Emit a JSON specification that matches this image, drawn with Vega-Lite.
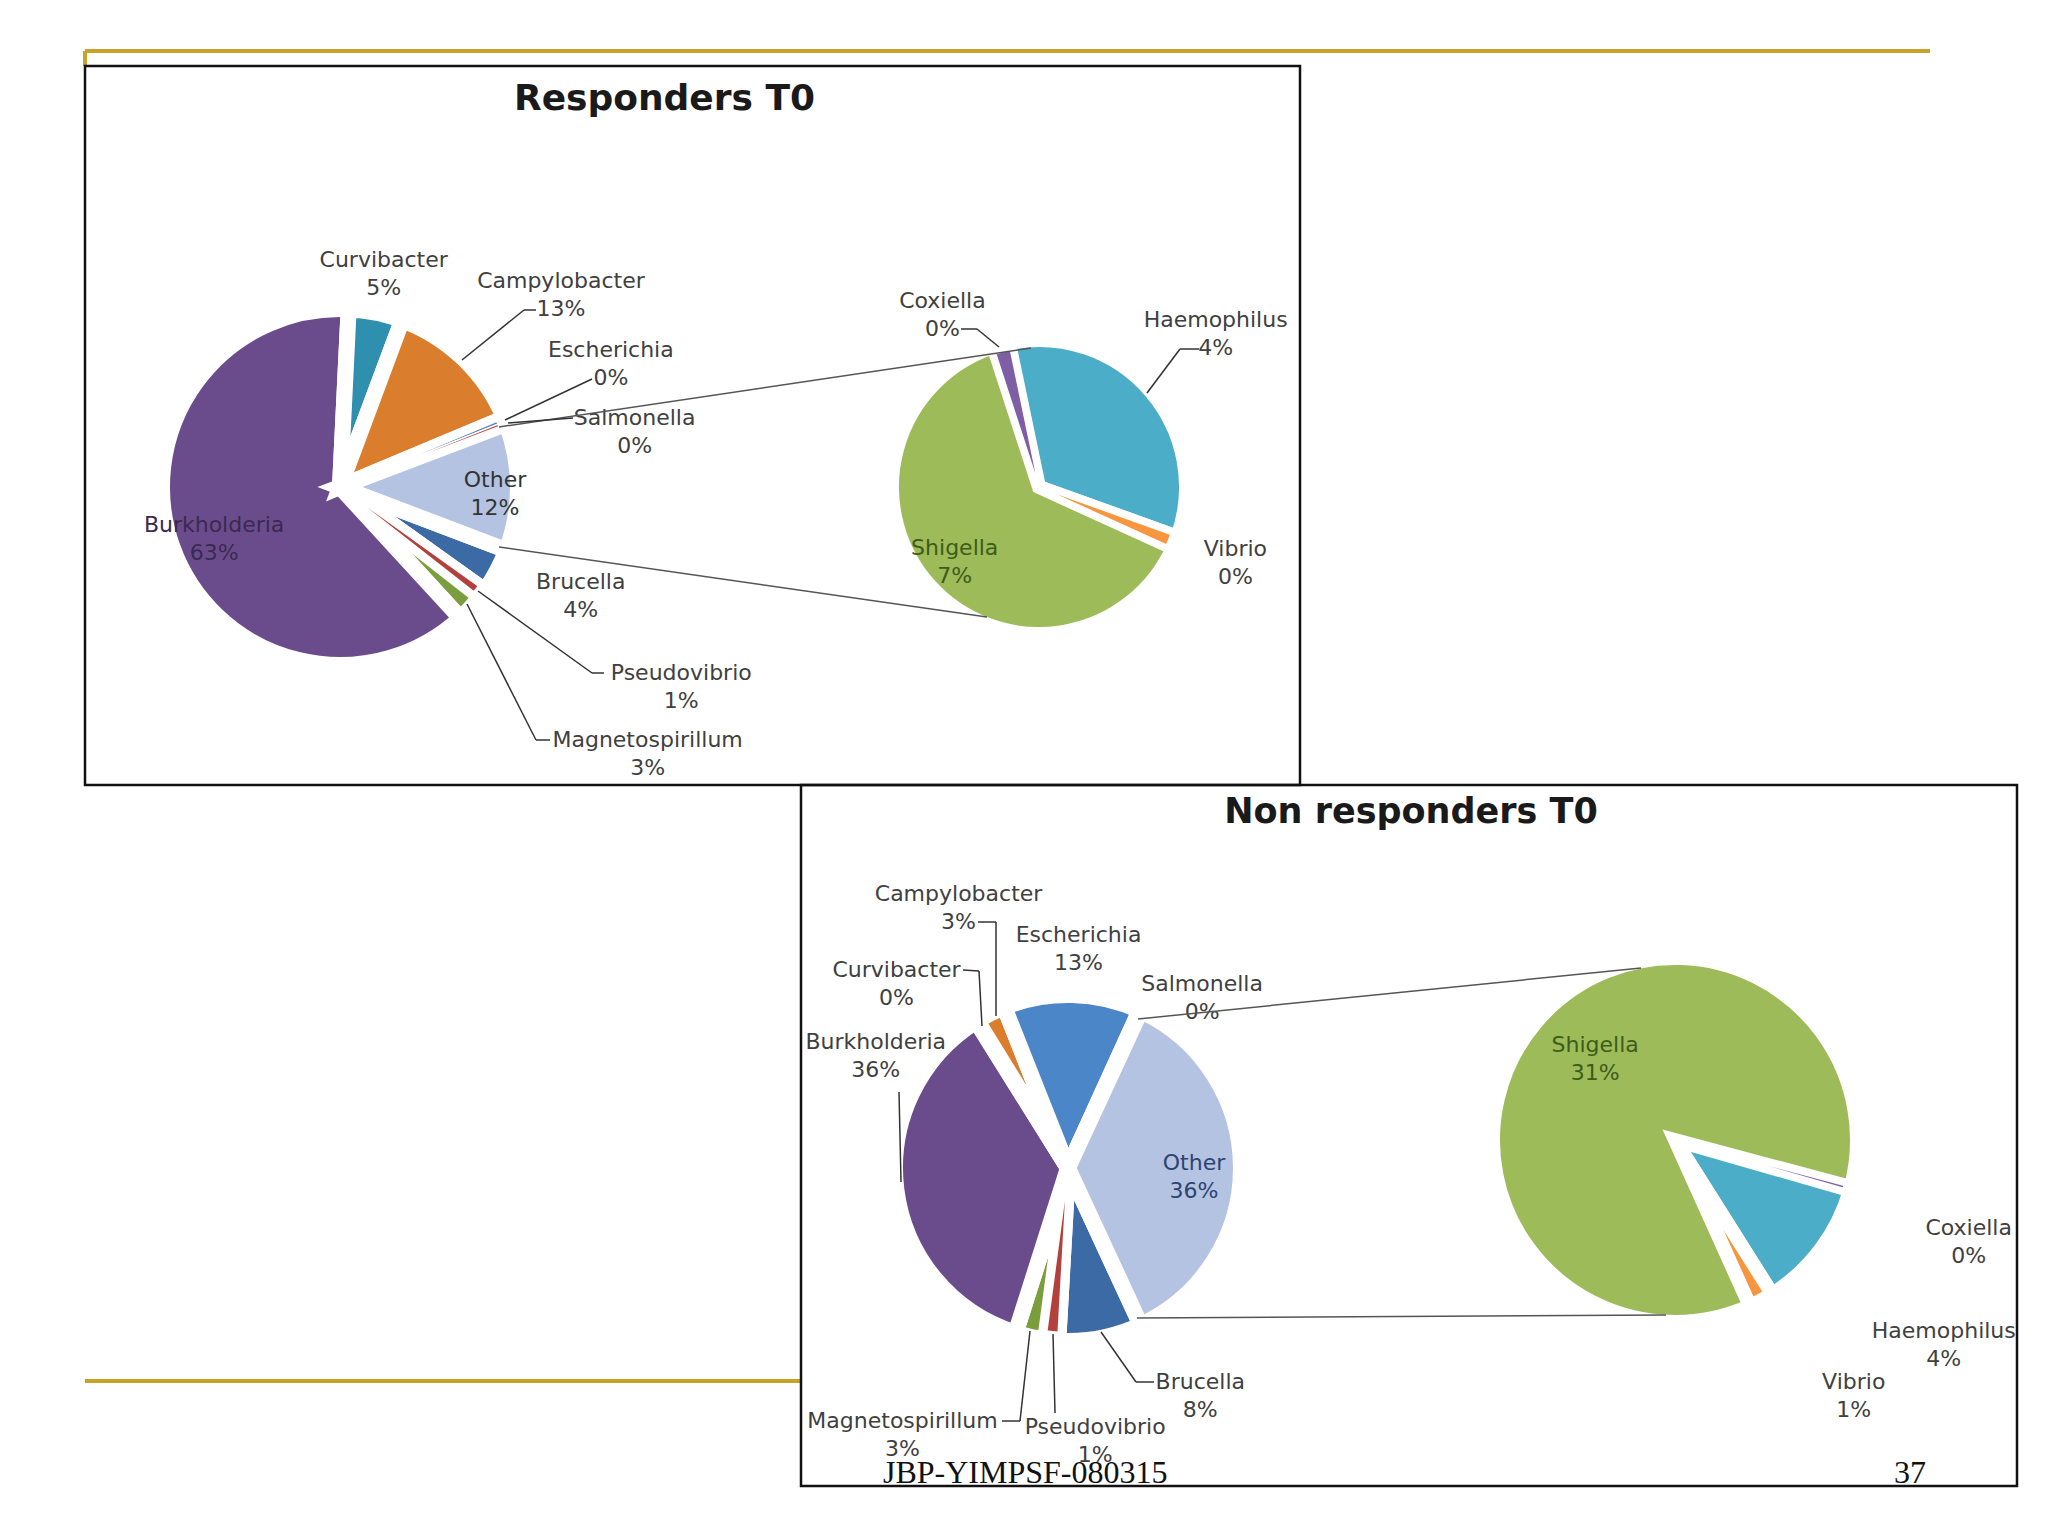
{
"$schema": "https://vega.github.io/schema/vega-lite/v6.json",
"background": "white",
"padding": {"left": 83, "top": 49, "right": 0, "bottom": 0},
"bounds": "flush",
"spacing": 0,
"config": {
  "view": {"stroke": null},
  "text": {"font": "DejaVu Sans", "fontSize": 22, "lineHeight": 28, "color": "#404040", "align": "center", "baseline": "middle"},
  "rule": {"color": "#333333", "strokeWidth": 1.5}
},
"datasets": {
  "r_main": [
    {"pie": "Main", "genus": "Brucella", "v": 0.041, "k": 1},
    {"pie": "Main", "genus": "Pseudovibrio", "v": 0.007, "k": 2},
    {"pie": "Main", "genus": "Magnetospirillum", "v": 0.026, "k": 3},
    {"pie": "Main", "genus": "Burkholderia", "v": 0.626, "k": 4},
    {"pie": "Main", "genus": "Curvibacter", "v": 0.049, "k": 5},
    {"pie": "Main", "genus": "Campylobacter", "v": 0.13, "k": 6},
    {"pie": "Main", "genus": "Escherichia", "v": 0.003, "k": 7},
    {"pie": "Main", "genus": "Salmonella", "v": 0.0025, "k": 8},
    {"pie": "Main", "genus": "Other", "v": 0.1155, "k": 9}
  ],
  "r_sub": [
    {"pie": "Sub", "genus": "Coxiella", "v": 0.002, "k": 1},
    {"pie": "Sub", "genus": "Haemophilus", "v": 0.039, "k": 2},
    {"pie": "Sub", "genus": "Vibrio", "v": 0.0015, "k": 3},
    {"pie": "Sub", "genus": "Shigella", "v": 0.073, "k": 4}
  ],
  "n_main": [
    {"pie": "Main", "genus": "Brucella", "v": 0.078, "k": 1},
    {"pie": "Main", "genus": "Pseudovibrio", "v": 0.012, "k": 2},
    {"pie": "Main", "genus": "Magnetospirillum", "v": 0.028, "k": 3},
    {"pie": "Main", "genus": "Burkholderia", "v": 0.362, "k": 4},
    {"pie": "Main", "genus": "Curvibacter", "v": 0.001, "k": 5},
    {"pie": "Main", "genus": "Campylobacter", "v": 0.028, "k": 6},
    {"pie": "Main", "genus": "Escherichia", "v": 0.128, "k": 7},
    {"pie": "Main", "genus": "Salmonella", "v": 0.001, "k": 8},
    {"pie": "Main", "genus": "Other", "v": 0.362, "k": 9}
  ],
  "n_sub": [
    {"pie": "Sub", "genus": "Coxiella", "v": 0.001, "k": 1},
    {"pie": "Sub", "genus": "Haemophilus", "v": 0.042, "k": 2},
    {"pie": "Sub", "genus": "Vibrio", "v": 0.008, "k": 3},
    {"pie": "Sub", "genus": "Shigella", "v": 0.311, "k": 4}
  ]
},
"vconcat": [
  {
    "width": 1845, "height": 15,
    "data": {"values": [{}]},
    "layer": [
      {"mark": {"type": "rule", "color": "#C9A227", "strokeWidth": 4},
       "encoding": {"y": {"datum": 1, "type": "quantitative", "scale": {"domain": [0, 1]}, "axis": null}}},
      {"mark": {"type": "rule", "color": "#C9A227", "strokeWidth": 4},
       "encoding": {"x": {"datum": 0, "type": "quantitative", "scale": {"domain": [0, 1]}, "axis": null}}}
    ]
  },
  {
    "width": 1215, "height": 719,
    "view": {"stroke": "#111111", "strokeWidth": 2.5},
    "resolve": {"scale": {"theta": "independent"}},
    "layer": [
      {
        "data": {"name": "r_main"},
        "encoding": {
          "x": {"field": "pie", "type": "nominal", "axis": null, "scale": {"type": "point", "domain": ["Main", "Sub"], "range": [255, 954], "padding": 0}},
          "y": {"field": "pie", "type": "nominal", "axis": null, "scale": {"type": "point", "domain": ["Main", "Sub"], "range": [421, 421], "padding": 0}},
          "theta": {"field": "v", "type": "quantitative", "stack": true, "scale": {"range": [1.93365, 8.21684]}},
          "order": {"field": "k", "type": "quantitative"},
          "detail": {"field": "genus", "type": "nominal"}
        },
        "layer": [
          {"mark": {"type": "arc", "radius": 178, "stroke": "white", "strokeWidth": 16},
           "encoding": {"color": {"field": "genus", "type": "nominal", "legend": null, "scale": {"domain": ["Burkholderia","Curvibacter","Campylobacter","Escherichia","Salmonella","Other","Brucella","Pseudovibrio","Magnetospirillum","Shigella","Haemophilus","Vibrio","Coxiella"], "range": ["#6A4C8C","#2F8FAE","#DA7D2C","#4A86C8","#C9524E","#B5C3E2","#3C6AA5","#B3403C","#7A9E3D","#9DBB58","#4BADC8","#F7963F","#7E5FA6"]}}}},
          {"mark": {"type": "arc", "radius": 170, "stroke": "white", "strokeWidth": 1.5},
           "encoding": {"color": {"field": "genus", "type": "nominal", "legend": null, "scale": {"domain": ["Burkholderia","Curvibacter","Campylobacter","Escherichia","Salmonella","Other","Brucella","Pseudovibrio","Magnetospirillum","Shigella","Haemophilus","Vibrio","Coxiella"], "range": ["#6A4C8C","#2F8FAE","#DA7D2C","#4A86C8","#C9524E","#B5C3E2","#3C6AA5","#B3403C","#7A9E3D","#9DBB58","#4BADC8","#F7963F","#7E5FA6"]}},
                        "opacity": {"condition": {"test": "datum.v < 0.013", "value": 1}, "value": 0}}},
          {"mark": {"type": "text", "clip": true, "radius": 136, "dx": 2, "dy": -8, "fill": "#3a2950", "text": {"expr": "[datum.genus, format(datum.v, '.0%')]"}}, "encoding": {"opacity": {"condition": {"test": "datum.genus === 'Burkholderia'", "value": 1}, "value": 0}}},
          {"mark": {"type": "text", "clip": true, "radius": 155, "dy": -7, "fill": "#333333", "text": {"expr": "[datum.genus, format(datum.v, '.0%')]"}}, "encoding": {"opacity": {"condition": {"test": "datum.genus === 'Other'", "value": 1}, "value": 0}}},
          {"mark": {"type": "text", "clip": true, "radius": 217, "dy": -14, "text": {"expr": "[datum.genus, format(datum.v, '.0%')]"}}, "encoding": {"opacity": {"condition": {"test": "datum.genus === 'Curvibacter'", "value": 1}, "value": 0}}},
          {"mark": {"type": "text", "clip": true, "radius": 293, "dx": 18, "dy": 5, "text": {"expr": "[datum.genus, format(datum.v, '.0%')]"}}, "encoding": {"opacity": {"condition": {"test": "datum.genus === 'Campylobacter'", "value": 1}, "value": 0}}},
          {"mark": {"type": "text", "clip": true, "radius": 298, "dx": -5, "dy": -24, "text": {"expr": "[datum.genus, format(datum.v, '.0%')]"}}, "encoding": {"opacity": {"condition": {"test": "datum.genus === 'Escherichia'", "value": 1}, "value": 0}}},
          {"mark": {"type": "text", "clip": true, "radius": 300, "dx": 15, "dy": 40, "text": {"expr": "[datum.genus, format(datum.v, '.0%')]"}}, "encoding": {"opacity": {"condition": {"test": "datum.genus === 'Salmonella'", "value": 1}, "value": 0}}},
          {"mark": {"type": "text", "clip": true, "radius": 264, "dx": 8, "dy": -30, "text": {"expr": "[datum.genus, format(datum.v, '.0%')]"}}, "encoding": {"opacity": {"condition": {"test": "datum.genus === 'Brucella'", "value": 1}, "value": 0}}},
          {"mark": {"type": "text", "clip": true, "radius": 395, "dx": 25, "dy": -51, "text": {"expr": "[datum.genus, format(datum.v, '.0%')]"}}, "encoding": {"opacity": {"condition": {"test": "datum.genus === 'Pseudovibrio'", "value": 1}, "value": 0}}},
          {"mark": {"type": "text", "clip": true, "radius": 408, "dx": 8, "dy": -24, "text": {"expr": "[datum.genus, format(datum.v, '.0%')]"}}, "encoding": {"opacity": {"condition": {"test": "datum.genus === 'Magnetospirillum'", "value": 1}, "value": 0}}}
        ]
      },
      {
        "data": {"name": "r_sub"},
        "encoding": {
          "x": {"field": "pie", "type": "nominal", "axis": null},
          "y": {"field": "pie", "type": "nominal", "axis": null},
          "theta": {"field": "v", "type": "quantitative", "stack": true, "scale": {"range": [-0.31416, 5.96903]}},
          "order": {"field": "k", "type": "quantitative"},
          "detail": {"field": "genus", "type": "nominal"}
        },
        "layer": [
          {"mark": {"type": "arc", "radius": 147, "stroke": "white", "strokeWidth": 14},
           "encoding": {"color": {"field": "genus", "type": "nominal", "legend": null, "scale": {"domain": ["Burkholderia","Curvibacter","Campylobacter","Escherichia","Salmonella","Other","Brucella","Pseudovibrio","Magnetospirillum","Shigella","Haemophilus","Vibrio","Coxiella"], "range": ["#6A4C8C","#2F8FAE","#DA7D2C","#4A86C8","#C9524E","#B5C3E2","#3C6AA5","#B3403C","#7A9E3D","#9DBB58","#4BADC8","#F7963F","#7E5FA6"]}}}},
          {"mark": {"type": "arc", "radius": 140, "stroke": "white", "strokeWidth": 1.5},
           "encoding": {"color": {"field": "genus", "type": "nominal", "legend": null, "scale": {"domain": ["Burkholderia","Curvibacter","Campylobacter","Escherichia","Salmonella","Other","Brucella","Pseudovibrio","Magnetospirillum","Shigella","Haemophilus","Vibrio","Coxiella"], "range": ["#6A4C8C","#2F8FAE","#DA7D2C","#4A86C8","#C9524E","#B5C3E2","#3C6AA5","#B3403C","#7A9E3D","#9DBB58","#4BADC8","#F7963F","#7E5FA6"]}},
                        "opacity": {"condition": {"test": "datum.v < 0.003", "value": 1}, "value": 0}}},
          {"mark": {"type": "text", "clip": true, "radius": 113, "dy": -14, "fill": "#3d5c1a", "text": {"expr": "[datum.genus, format(datum.v, '.0%')]"}}, "encoding": {"opacity": {"condition": {"test": "datum.genus === 'Shigella'", "value": 1}, "value": 0}}},
          {"mark": {"type": "text", "clip": true, "radius": 197, "dx": -46, "dy": 4, "text": {"expr": "[datum.genus, format(datum.v, '.0%')]"}}, "encoding": {"opacity": {"condition": {"test": "datum.genus === 'Coxiella'", "value": 1}, "value": 0}}},
          {"mark": {"type": "text", "clip": true, "radius": 234, "dy": -14, "text": {"expr": "[datum.genus, format(datum.v, '.0%')]"}}, "encoding": {"opacity": {"condition": {"test": "datum.genus === 'Haemophilus'", "value": 1}, "value": 0}}},
          {"mark": {"type": "text", "clip": true, "radius": 212, "dy": -18, "text": {"expr": "[datum.genus, format(datum.v, '.0%')]"}}, "encoding": {"opacity": {"condition": {"test": "datum.genus === 'Vibrio'", "value": 1}, "value": 0}}}
        ]
      },
      {
        "data": {"values": [{}]},
        "encoding": {"x": {"datum": "Main", "type": "nominal"}, "y": {"datum": "Main", "type": "nominal"}, "x2": {"datum": "Sub"}, "y2": {"datum": "Sub"}},
        "layer": [
          {"mark": {"type": "rule", "color": "#555555", "xOffset": 159, "yOffset": -60, "x2Offset": -8, "y2Offset": -139}},
          {"mark": {"type": "rule", "color": "#555555", "xOffset": 159, "yOffset": 60, "x2Offset": -52, "y2Offset": 130}}
        ]
      },
      {
        "data": {"values": [{}]},
        "encoding": {"x": {"datum": "Main", "type": "nominal"}, "y": {"datum": "Main", "type": "nominal"}, "x2": {"datum": "Main"}, "y2": {"datum": "Main"}},
        "layer": [
          {"mark": {"type": "rule", "xOffset": 122, "yOffset": -127, "x2Offset": 184, "y2Offset": -177}},
          {"mark": {"type": "rule", "xOffset": 184, "yOffset": -177, "x2Offset": 196, "y2Offset": -177}},
          {"mark": {"type": "rule", "xOffset": 165, "yOffset": -67, "x2Offset": 252, "y2Offset": -108}},
          {"mark": {"type": "rule", "xOffset": 168, "yOffset": -64, "x2Offset": 233, "y2Offset": -69}},
          {"mark": {"type": "rule", "xOffset": 138, "yOffset": 104, "x2Offset": 252, "y2Offset": 186}},
          {"mark": {"type": "rule", "xOffset": 252, "yOffset": 186, "x2Offset": 264, "y2Offset": 186}},
          {"mark": {"type": "rule", "xOffset": 127, "yOffset": 117, "x2Offset": 196, "y2Offset": 253}},
          {"mark": {"type": "rule", "xOffset": 196, "yOffset": 253, "x2Offset": 210, "y2Offset": 253}}
        ]
      },
      {
        "data": {"values": [{}]},
        "encoding": {"x": {"datum": "Sub", "type": "nominal"}, "y": {"datum": "Sub", "type": "nominal"}, "x2": {"datum": "Sub"}, "y2": {"datum": "Sub"}},
        "layer": [
          {"mark": {"type": "rule", "xOffset": -40, "yOffset": -140, "x2Offset": -62, "y2Offset": -158}},
          {"mark": {"type": "rule", "xOffset": -62, "yOffset": -158, "x2Offset": -78, "y2Offset": -158}},
          {"mark": {"type": "rule", "xOffset": 108, "yOffset": -94, "x2Offset": 141, "y2Offset": -138}},
          {"mark": {"type": "rule", "xOffset": 141, "yOffset": -138, "x2Offset": 160, "y2Offset": -138}}
        ]
      },
      {
        "data": {"values": [{}]},
        "mark": {"type": "text", "text": "Responders T0", "font": "DejaVu Sans", "fontSize": 36, "fontWeight": "bold", "color": "#1a1a1a", "dx": -28, "dy": -327}
      }
    ]
  },
  {
    "spacing": 0,
    "bounds": "flush",
    "hconcat": [
      {
        "width": 716, "height": 596,
        "data": {"values": [{}]},
        "mark": {"type": "rule", "color": "#C9A227", "strokeWidth": 4},
        "encoding": {"y": {"datum": 0, "type": "quantitative", "scale": {"domain": [0, 1]}, "axis": null}},
        "title": {"text": "JBP-YIMPSF-080315", "orient": "bottom", "anchor": "start", "baseline": "top", "font": "Liberation Serif", "fontSize": 32, "fontWeight": "normal", "color": "#111111", "offset": 75, "dx": 800}
      },
      {
        "width": 1216, "height": 701,
        "view": {"stroke": "#111111", "strokeWidth": 2.5},
        "resolve": {"scale": {"theta": "independent"}},
        "layer": [
          {
            "data": {"name": "n_main"},
            "encoding": {
              "x": {"field": "pie", "type": "nominal", "axis": null, "scale": {"type": "point", "domain": ["Main", "Sub"], "range": [267, 874], "padding": 0}},
              "y": {"field": "pie", "type": "nominal", "axis": null, "scale": {"type": "point", "domain": ["Main", "Sub"], "range": [383, 355], "padding": 0}},
              "theta": {"field": "v", "type": "quantitative", "stack": true, "scale": {"range": [2.70806, 8.99125]}},
              "order": {"field": "k", "type": "quantitative"},
              "detail": {"field": "genus", "type": "nominal"}
            },
            "layer": [
              {"mark": {"type": "arc", "radius": 173, "stroke": "white", "strokeWidth": 16},
               "encoding": {"color": {"field": "genus", "type": "nominal", "legend": null, "scale": {"domain": ["Burkholderia","Curvibacter","Campylobacter","Escherichia","Salmonella","Other","Brucella","Pseudovibrio","Magnetospirillum","Shigella","Haemophilus","Vibrio","Coxiella"], "range": ["#6A4C8C","#2F8FAE","#DA7D2C","#4A86C8","#C9524E","#B5C3E2","#3C6AA5","#B3403C","#7A9E3D","#9DBB58","#4BADC8","#F7963F","#7E5FA6"]}}}},
              {"mark": {"type": "arc", "radius": 165, "stroke": "white", "strokeWidth": 2.5},
               "encoding": {"color": {"field": "genus", "type": "nominal", "legend": null, "scale": {"domain": ["Burkholderia","Curvibacter","Campylobacter","Escherichia","Salmonella","Other","Brucella","Pseudovibrio","Magnetospirillum","Shigella","Haemophilus","Vibrio","Coxiella"], "range": ["#6A4C8C","#2F8FAE","#DA7D2C","#4A86C8","#C9524E","#B5C3E2","#3C6AA5","#B3403C","#7A9E3D","#9DBB58","#4BADC8","#F7963F","#7E5FA6"]}},
                            "opacity": {"condition": {"test": "datum.v < 0.013", "value": 1}, "value": 0}}},
              {"mark": {"type": "text", "clip": true, "radius": 282, "dx": 17, "dy": -22, "text": {"expr": "[datum.genus, format(datum.v, '.0%')]"}}, "encoding": {"opacity": {"condition": {"test": "datum.genus === 'Campylobacter'", "value": 1}, "value": 0}}},
              {"mark": {"type": "text", "clip": true, "radius": 219, "dx": 5, "dy": -14, "text": {"expr": "[datum.genus, format(datum.v, '.0%')]"}}, "encoding": {"opacity": {"condition": {"test": "datum.genus === 'Escherichia'", "value": 1}, "value": 0}}},
              {"mark": {"type": "text", "clip": true, "radius": 251, "dx": -39, "dy": 15, "text": {"expr": "[datum.genus, format(datum.v, '.0%')]"}}, "encoding": {"opacity": {"condition": {"test": "datum.genus === 'Curvibacter'", "value": 1}, "value": 0}}},
              {"mark": {"type": "text", "clip": true, "radius": 216, "dx": 44, "dy": 12, "text": {"expr": "[datum.genus, format(datum.v, '.0%')]"}}, "encoding": {"opacity": {"condition": {"test": "datum.genus === 'Salmonella'", "value": 1}, "value": 0}}},
              {"mark": {"type": "text", "clip": true, "radius": 222, "dx": 28, "dy": -154, "text": {"expr": "[datum.genus, format(datum.v, '.0%')]"}}, "encoding": {"opacity": {"condition": {"test": "datum.genus === 'Burkholderia'", "value": 1}, "value": 0}}},
              {"mark": {"type": "text", "clip": true, "radius": 126, "dy": -5, "fill": "#2c4470", "text": {"expr": "[datum.genus, format(datum.v, '.0%')]"}}, "encoding": {"opacity": {"condition": {"test": "datum.genus === 'Other'", "value": 1}, "value": 0}}},
              {"mark": {"type": "text", "clip": true, "radius": 263, "dx": 83, "dy": -44, "text": {"expr": "[datum.genus, format(datum.v, '.0%')]"}}, "encoding": {"opacity": {"condition": {"test": "datum.genus === 'Brucella'", "value": 1}, "value": 0}}},
              {"mark": {"type": "text", "clip": true, "radius": 274, "dx": 53, "dy": -14, "text": {"expr": "[datum.genus, format(datum.v, '.0%')]"}}, "encoding": {"opacity": {"condition": {"test": "datum.genus === 'Pseudovibrio'", "value": 1}, "value": 0}}},
              {"mark": {"type": "text", "clip": true, "radius": 314, "dx": -97, "dy": -53, "text": {"expr": "[datum.genus, format(datum.v, '.0%')]"}}, "encoding": {"opacity": {"condition": {"test": "datum.genus === 'Magnetospirillum'", "value": 1}, "value": 0}}}
            ]
          },
          {
            "data": {"name": "n_sub"},
            "encoding": {
              "x": {"field": "pie", "type": "nominal", "axis": null},
              "y": {"field": "pie", "type": "nominal", "axis": null},
              "theta": {"field": "v", "type": "quantitative", "stack": true, "scale": {"range": [1.8326, 8.11578]}},
              "order": {"field": "k", "type": "quantitative"},
              "detail": {"field": "genus", "type": "nominal"}
            },
            "layer": [
              {"mark": {"type": "arc", "radius": 182, "stroke": "white", "strokeWidth": 14},
               "encoding": {"color": {"field": "genus", "type": "nominal", "legend": null, "scale": {"domain": ["Burkholderia","Curvibacter","Campylobacter","Escherichia","Salmonella","Other","Brucella","Pseudovibrio","Magnetospirillum","Shigella","Haemophilus","Vibrio","Coxiella"], "range": ["#6A4C8C","#2F8FAE","#DA7D2C","#4A86C8","#C9524E","#B5C3E2","#3C6AA5","#B3403C","#7A9E3D","#9DBB58","#4BADC8","#F7963F","#7E5FA6"]}}}},
              {"mark": {"type": "arc", "radius": 175, "stroke": "white", "strokeWidth": 1.5},
               "encoding": {"color": {"field": "genus", "type": "nominal", "legend": null, "scale": {"domain": ["Burkholderia","Curvibacter","Campylobacter","Escherichia","Salmonella","Other","Brucella","Pseudovibrio","Magnetospirillum","Shigella","Haemophilus","Vibrio","Coxiella"], "range": ["#6A4C8C","#2F8FAE","#DA7D2C","#4A86C8","#C9524E","#B5C3E2","#3C6AA5","#B3403C","#7A9E3D","#9DBB58","#4BADC8","#F7963F","#7E5FA6"]}},
                            "opacity": {"condition": {"test": "datum.v < 0.003", "value": 1}, "value": 0}}},
              {"mark": {"type": "text", "clip": true, "radius": 114, "dx": 7, "dy": -21, "fill": "#3d5c1a", "text": {"expr": "[datum.genus, format(datum.v, '.0%')]"}}, "encoding": {"opacity": {"condition": {"test": "datum.genus === 'Shigella'", "value": 1}, "value": 0}}},
              {"mark": {"type": "text", "clip": true, "radius": 311, "dx": -6, "dy": 5, "text": {"expr": "[datum.genus, format(datum.v, '.0%')]"}}, "encoding": {"opacity": {"condition": {"test": "datum.genus === 'Coxiella'", "value": 1}, "value": 0}}},
              {"mark": {"type": "text", "clip": true, "radius": 336, "dy": -11, "text": {"expr": "[datum.genus, format(datum.v, '.0%')]"}}, "encoding": {"opacity": {"condition": {"test": "datum.genus === 'Haemophilus'", "value": 1}, "value": 0}}},
              {"mark": {"type": "text", "clip": true, "radius": 312, "dx": 31, "dy": -33, "text": {"expr": "[datum.genus, format(datum.v, '.0%')]"}}, "encoding": {"opacity": {"condition": {"test": "datum.genus === 'Vibrio'", "value": 1}, "value": 0}}}
            ]
          },
          {
            "data": {"values": [{}]},
            "encoding": {"x": {"datum": "Main", "type": "nominal"}, "y": {"datum": "Main", "type": "nominal"}, "x2": {"datum": "Sub"}, "y2": {"datum": "Sub"}},
            "layer": [
              {"mark": {"type": "rule", "color": "#555555", "xOffset": 70, "yOffset": -149, "x2Offset": -34, "y2Offset": -172}},
              {"mark": {"type": "rule", "color": "#555555", "xOffset": 69, "yOffset": 150, "x2Offset": -9, "y2Offset": 175}}
            ]
          },
          {
            "data": {"values": [{}]},
            "encoding": {"x": {"datum": "Main", "type": "nominal"}, "y": {"datum": "Main", "type": "nominal"}, "x2": {"datum": "Main"}, "y2": {"datum": "Main"}},
            "layer": [
              {"mark": {"type": "rule", "xOffset": -72, "yOffset": -152, "x2Offset": -72, "y2Offset": -246}},
              {"mark": {"type": "rule", "xOffset": -72, "yOffset": -246, "x2Offset": -90, "y2Offset": -246}},
              {"mark": {"type": "rule", "xOffset": -86, "yOffset": -142, "x2Offset": -89, "y2Offset": -197}},
              {"mark": {"type": "rule", "xOffset": -89, "yOffset": -197, "x2Offset": -105, "y2Offset": -198}},
              {"mark": {"type": "rule", "xOffset": -169, "yOffset": -76, "x2Offset": -167, "y2Offset": 14}},
              {"mark": {"type": "rule", "xOffset": -38, "yOffset": 163, "x2Offset": -48, "y2Offset": 253}},
              {"mark": {"type": "rule", "xOffset": -48, "yOffset": 253, "x2Offset": -66, "y2Offset": 253}},
              {"mark": {"type": "rule", "xOffset": -15, "yOffset": 166, "x2Offset": -13, "y2Offset": 245}},
              {"mark": {"type": "rule", "xOffset": 33, "yOffset": 164, "x2Offset": 68, "y2Offset": 214}},
              {"mark": {"type": "rule", "xOffset": 68, "yOffset": 214, "x2Offset": 86, "y2Offset": 214}}
            ]
          },
          {
            "data": {"values": [{}]},
            "mark": {"type": "text", "text": "Non responders T0", "font": "DejaVu Sans", "fontSize": 35, "fontWeight": "bold", "color": "#1a1a1a", "dx": 2, "dy": -324}
          },
          {
            "data": {"values": [{}]},
            "mark": {"type": "text", "text": "37", "font": "Liberation Serif", "fontSize": 32, "color": "#111111", "dx": 501, "dy": 337}
          }
        ]
      }
    ]
  }
]
}
